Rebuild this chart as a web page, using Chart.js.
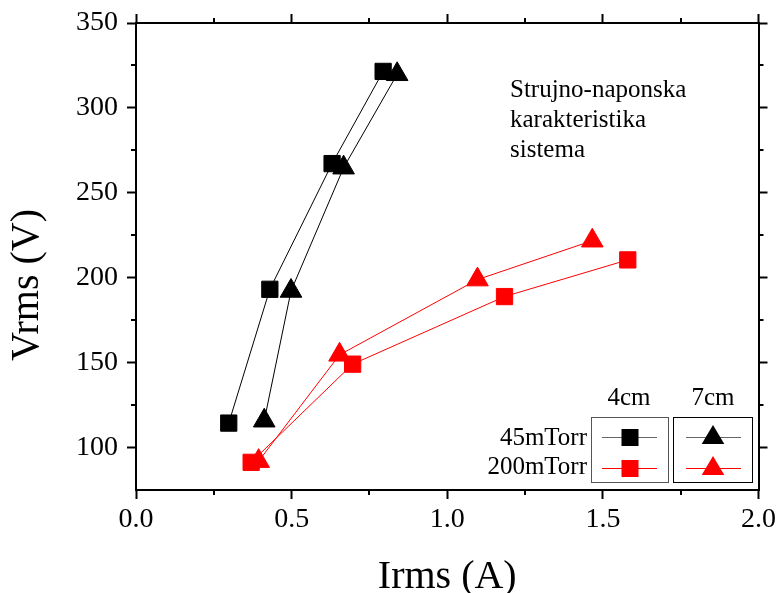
<!DOCTYPE html>
<html>
<head>
<meta charset="utf-8">
<script src="https://cdn.jsdelivr.net/npm/chart.js@4"></script>
<style>
  body { margin: 0; background: #fff; }
  #wrap { width: 783px; height: 593px; position: relative; }
</style>
</head>
<body>
<div id="wrap"><canvas id="myChart"></canvas></div>
<script>
// data
const sq45X = [0.298, 0.430, 0.630, 0.794];
const sq45Y = [114.4, 193.2, 267.2, 321.5];
const tri45X = [0.412, 0.498, 0.667, 0.839];
const tri45Y = [115.8, 192.2, 264.8, 319.8];
const sq200X = [0.370, 0.696, 1.184, 1.580];
const sq200Y = [91.3, 149.1, 188.9, 210.5];
const tri200X = [0.394, 0.654, 1.097, 1.466];
const tri200Y = [92.0, 154.6, 198.9, 221.8];

const xMinor = [0.25, 0.75, 1.25, 1.75];
const yMinor = [125, 175, 225, 275, 325];

const labelRows = ['45mTorr', '200mTorr'];
const labelCols = ['4cm', '7cm'];
const noteLines = ['Strujno-naponska', 'karakteristika', 'sistema'];

const serif = '"Liberation Serif", "Times New Roman", serif';

function pts(xs, ys) {
    return xs.map((x, i) => ({ x: x, y: ys[i] }));
}

function serie(xs, ys, color, style, r) {
    return {
        data: pts(xs, ys),
        showLine: true,
        borderColor: color,
        borderWidth: 1,
        backgroundColor: color,
        pointStyle: style,
        pointRadius: r,
        pointBorderWidth: 1,
        pointBorderColor: color,
        pointBackgroundColor: color
    };
}

// axes helpers
function axis(pos, size, showLabels) {
    const a = {
        type: 'linear',
        position: pos,
        grid: { drawOnChartArea: false, drawTicks: true, tickLength: 9, tickWidth: 2, tickColor: '#000' },
        border: { display: true, width: 2, color: '#000' },
        ticks: { display: showLabels, color: '#000', font: { family: serif, size: 28, lineHeight: 1 } },
        afterFit: s => {
            if (pos == 'top' || pos == 'bottom') s.height = size; else s.width = size;
        }
    };
    return a;
}

const xAx = axis('bottom', 103, true);
xAx.min = 0; xAx.max = 2;
xAx.ticks.stepSize = 0.5;
xAx.ticks.padding = 7;
xAx.ticks.callback = v => v.toFixed(1);
xAx.title = { display: true, text: 'Irms (A)', color: '#000', font: { family: serif, size: 40, lineHeight: 0.8 }, padding: { top: 0, bottom: 0 } };

const x2Ax = axis('top', 23, false);
x2Ax.min = 0; x2Ax.max = 2;
x2Ax.ticks.stepSize = 0.5;

const yAx = axis('left', 136, true);
yAx.min = 75; yAx.max = 350;
yAx.ticks.stepSize = 50;
yAx.ticks.includeBounds = false;
yAx.ticks.padding = 9;

const y2Ax = axis('right', 19, false);
y2Ax.min = 75; y2Ax.max = 350;
y2Ax.ticks.stepSize = 50;
y2Ax.ticks.includeBounds = false;

// minor ticks, y title, note and legend boxes
const extras = {
    id: 'extras',
    afterDraw(chart) {
        const ctx = chart.ctx;
        const s = chart.scales;
        const a = chart.chartArea;
        ctx.save();
        ctx.strokeStyle = '#000';
        ctx.lineWidth = 2;
        ctx.beginPath();
        xMinor.forEach(v => {
            const px = Math.round(s.x.getPixelForValue(v));
            ctx.moveTo(px, a.bottom); ctx.lineTo(px, a.bottom + 5);
            ctx.moveTo(px, a.top); ctx.lineTo(px, a.top - 5);
        });
        yMinor.forEach(v => {
            const py = Math.round(s.y.getPixelForValue(v));
            ctx.moveTo(a.left, py); ctx.lineTo(a.left - 5, py);
            ctx.moveTo(a.right, py); ctx.lineTo(a.right + 5, py);
        });
        ctx.stroke();

        // y title
        ctx.fillStyle = '#000';
        ctx.save();
        ctx.translate(38, 285);
        ctx.rotate(-Math.PI / 2);
        ctx.font = '40px ' + serif;
        ctx.textAlign = 'center';
        ctx.textBaseline = 'alphabetic';
        ctx.fillText('Vrms (V)', 0, 0);
        ctx.restore();

        // note
        ctx.font = '25px ' + serif;
        ctx.textAlign = 'left';
        ctx.textBaseline = 'alphabetic';
        noteLines.forEach((t, i) => ctx.fillText(t, 510, 97 + i * 30));

        // legend
        ctx.font = '25px ' + serif;
        ctx.textAlign = 'center';
        ctx.fillText(labelCols[0], 629, 405);
        ctx.fillText(labelCols[1], 713, 405);
        ctx.textAlign = 'right';
        ctx.fillText(labelRows[0], 587, 445);
        ctx.fillText(labelRows[1], 587, 474);

        ctx.lineWidth = 1;
        ctx.strokeStyle = '#555';
        ctx.strokeRect(591.5, 417.5, 77, 65);
        ctx.strokeStyle = '#000';
        ctx.strokeRect(673.5, 417.5, 79, 65);

        const rows = [{ y: 437.5, line: '#666', fill: '#000' }, { y: 468.5, line: '#ff0000', fill: '#ff0000' }];
        rows.forEach(r => {
            ctx.strokeStyle = r.line;
            ctx.beginPath();
            ctx.moveTo(602, r.y); ctx.lineTo(657, r.y);
            ctx.moveTo(686, r.y); ctx.lineTo(741, r.y);
            ctx.stroke();
            ctx.fillStyle = r.fill;
            ctx.fillRect(630 - 8.5, r.y - 8.5, 17, 17);
            ctx.beginPath();
            ctx.moveTo(713, r.y - 12.5);
            ctx.lineTo(713 + 11.3, r.y + 6.5);
            ctx.lineTo(713 - 11.3, r.y + 6.5);
            ctx.closePath();
            ctx.fill();
        });
        ctx.restore();
    }
};

const grafico = new Chart(document.getElementById('myChart').getContext('2d'), {
    type: 'scatter',
    data: {
        datasets: [
            serie(tri200X, tri200Y, '#ff0000', 'triangle', 12.5),
            serie(tri45X, tri45Y, '#000000', 'triangle', 12.5),
            serie(sq200X, sq200Y, '#ff0000', 'rect', 11.5),
            serie(sq45X, sq45Y, '#000000', 'rect', 11.5)
        ]
    },
    options: {
        responsive: true,
        maintainAspectRatio: false,
        devicePixelRatio: 1,
        animation: false,
        layout: { padding: 0 },
        plugins: { legend: { display: false }, tooltip: { enabled: false } },
        scales: { x: xAx, x2: x2Ax, y: yAx, y2: y2Ax }
    },
    plugins: [extras]
});
</script>
</body>
</html>
